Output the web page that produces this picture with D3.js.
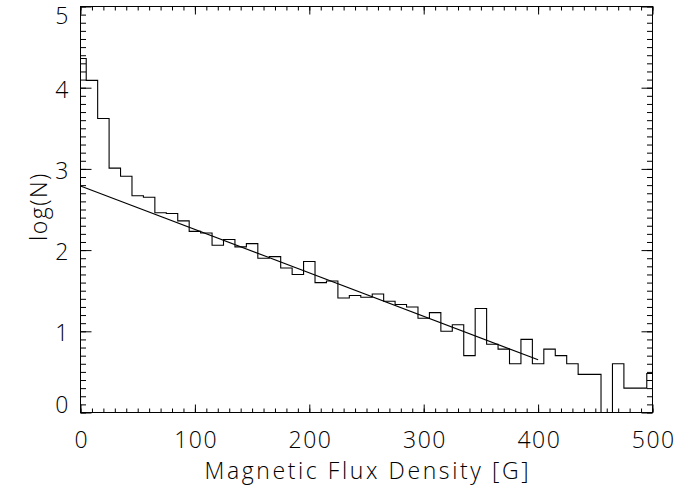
<!DOCTYPE html>
<html>
<head>
<meta charset="utf-8">
<script src="https://cdn.jsdelivr.net/npm/d3@7"></script>
<style>
  body { margin: 0; background: #fff; }
  text { font-family: "Open Sans", "Liberation Sans", sans-serif; font-weight: 300; fill: #000; }
</style>
</head>
<body>
<div id="svg-container"></div>
<script>
const width = 690;
const height = 490;
var margin = {top: 6.5, bottom: 77.5, left: 80.5, right: 37.5};

// ******** DATA **********
// histogram bin centres (G), 10 G bins
var binCenters = d3.range(0, 501, 10);
// log(N) per bin
var logN = [4.36, 4.09, 3.62, 3.01, 2.91, 2.67, 2.65, 2.46, 2.45, 2.36,
            2.23, 2.21, 2.06, 2.13, 2.04, 2.08, 1.90, 1.92, 1.78, 1.70,
            1.86, 1.60, 1.62, 1.41, 1.44, 1.42, 1.46, 1.37, 1.33, 1.30,
            1.16, 1.23, 1.00, 1.08, 0.70, 1.28, 0.84, 0.78, 0.60, 0.90,
            0.60, 0.78, 0.70, 0.60, 0.47, 0.47, 0.00, 0.60, 0.30, 0.30,
            0.48];
// linear fit
var fitX = [0, 400];
var fitY = [2.79, 0.65];
var xTicks = [0, 100, 200, 300, 400, 500];
var yTicks = [0, 1, 2, 3, 4, 5];

// ********* Create SVG *********
var svg = d3.select("#svg-container").append('svg')
.attr('width', width)
.attr('height', height);

var x_scale = d3.scaleLinear()
.domain([0, 500])
.range([margin.left, width - margin.right]);

var y_scale = d3.scaleLinear()
.domain([0, 5])
.range([height - margin.bottom, margin.top]);

svg.append('clipPath').attr('id', 'plot-clip')
.append('rect')
.attr('x', margin.left)
.attr('y', margin.top)
.attr('width', width - margin.left - margin.right)
.attr('height', height - margin.top - margin.bottom);

// ******** HISTOGRAM (IDL psym=10 style) *********
var hist = binCenters.map(function(c, i){ return [c, logN[i]]; });
var stepLine = d3.line()
.x(function(d){ return x_scale(d[0]); })
.y(function(d){ return y_scale(d[1]); })
.curve(d3.curveStep);

svg.append('path')
.datum(hist)
.attr('d', stepLine)
.attr('clip-path', 'url(#plot-clip)')
.style('fill', 'none')
.style('stroke', '#000')
.style('stroke-width', 1.1);

// ******** FIT LINE *********
var fit = fitX.map(function(v, i){ return [v, fitY[i]]; });
svg.append('path')
.datum(fit)
.attr('d', d3.line()
  .x(function(d){ return x_scale(d[0]); })
  .y(function(d){ return y_scale(d[1]); }))
.style('fill', 'none')
.style('stroke', '#000')
.style('stroke-width', 1.1);

// ******** AXES (ticks pointing inward, box on all sides) *********
var xMinor = d3.range(0, 501, 10);
var yMinor = d3.range(0, 5.001, 0.1);

function styleAxis(g){
  g.select('.domain').remove();
  g.selectAll('line').style('stroke', '#000');
}

// bottom
svg.append('g')
.attr('transform', `translate(0, ${y_scale(0)})`)
.call(d3.axisBottom(x_scale).tickValues(xMinor).tickSize(-4).tickFormat(''))
.call(styleAxis);
svg.append('g')
.attr('transform', `translate(0, ${y_scale(0)})`)
.call(d3.axisBottom(x_scale).tickValues(xTicks).tickSize(-8).tickPadding(19).tickFormat(d3.format('d')))
.call(styleAxis)
.selectAll('text')
.style('font-size', '23px')
.style('letter-spacing', '1.5px')
.attr('dx', '0.75px');

// top
svg.append('g')
.attr('transform', `translate(0, ${y_scale(5)})`)
.call(d3.axisTop(x_scale).tickValues(xMinor).tickSize(-4).tickFormat(''))
.call(styleAxis);
svg.append('g')
.attr('transform', `translate(0, ${y_scale(5)})`)
.call(d3.axisTop(x_scale).tickValues(xTicks).tickSize(-8).tickFormat(''))
.call(styleAxis);

// left
svg.append('g')
.attr('transform', `translate(${x_scale(0)}, 0)`)
.call(d3.axisLeft(y_scale).tickValues(yMinor).tickSize(-5.5).tickFormat(''))
.call(styleAxis);
var yAxis = svg.append('g')
.attr('transform', `translate(${x_scale(0)}, 0)`)
.call(d3.axisLeft(y_scale).tickValues(yTicks).tickSize(-11).tickPadding(12).tickFormat(d3.format('d')))
.call(styleAxis);
yAxis.selectAll('text')
.style('font-size', '23px')
.attr('dy', function(d){
  // IDL keeps the end labels inside the axis range
  if (d === 0) return '-0.02em';
  if (d === 5) return '0.74em';
  return '0.42em';
});

// right
svg.append('g')
.attr('transform', `translate(${x_scale(500)}, 0)`)
.call(d3.axisRight(y_scale).tickValues(yMinor).tickSize(-5.5).tickFormat(''))
.call(styleAxis);
svg.append('g')
.attr('transform', `translate(${x_scale(500)}, 0)`)
.call(d3.axisRight(y_scale).tickValues(yTicks).tickSize(-11).tickFormat(''))
.call(styleAxis);

// box
svg.append('rect')
.attr('x', x_scale(0))
.attr('y', y_scale(5))
.attr('width', x_scale(500) - x_scale(0))
.attr('height', y_scale(0) - y_scale(5))
.style('fill', 'none')
.style('stroke', '#000')
.style('stroke-width', 1);

// ******** AXIS TITLES *********
svg.append('text')
.attr('x', (x_scale(0) + x_scale(500)) / 2 + 1.3)
.attr('y', 479)
.style('text-anchor', 'middle')
.style('font-size', '23px')
.style('letter-spacing', '2.6px')
.text('Magnetic Flux Density [G]');

svg.append('text')
.attr('transform', `translate(47, ${(y_scale(0) + y_scale(5)) / 2 - 3}) rotate(-90)`)
.style('text-anchor', 'middle')
.style('font-size', '23px')
.style('letter-spacing', '1.5px')
.text('log(N)');
</script>
</body>
</html>
